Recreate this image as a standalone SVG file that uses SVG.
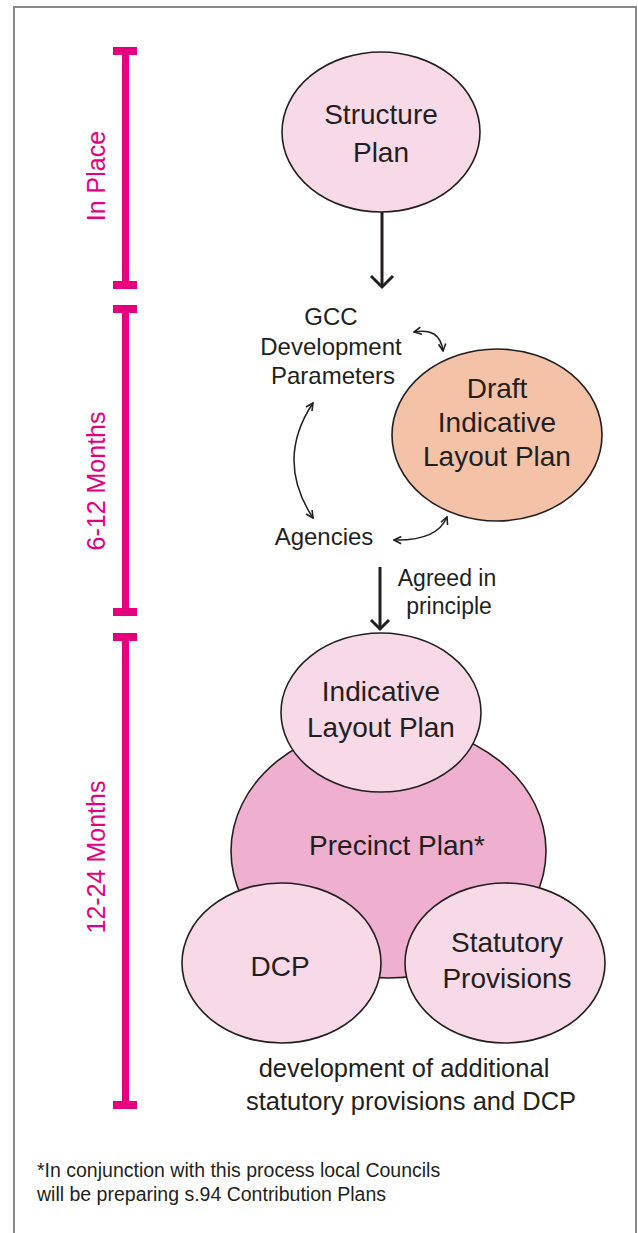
<svg xmlns="http://www.w3.org/2000/svg" width="638" height="1233" viewBox="0 0 638 1233">
<defs>
<style>
.t{font-family:"Liberation Sans",Arial,sans-serif;fill:#231f20;text-anchor:middle}
.big{font-size:28px}
.mid{font-size:24px}
.tl{font-family:"Liberation Sans",Arial,sans-serif;fill:#e6007e;font-size:25px;text-anchor:middle}
.node{stroke:#231f20;stroke-width:1.6}
.pink{fill:#f8d9e8}
.rose{fill:#efb0cf}
.salmon{fill:#f4c2a7}
.bar{fill:#e6007e}
.thick{stroke:#231f20;stroke-width:3;fill:none}
.thin{stroke:#231f20;stroke-width:1.5;fill:none;marker-start:url(#ah);marker-end:url(#ah)}
</style>
<marker id="ah" viewBox="0 0 10 10" refX="9" refY="5" markerWidth="9" markerHeight="9" markerUnits="userSpaceOnUse" orient="auto-start-reverse">
<path d="M1 1 L9 5 L1 9" fill="none" stroke="#231f20" stroke-width="1.8"/>
</marker>
</defs>
<rect width="638" height="1233" fill="#ffffff"/>
<path d="M14 1240 V7 H636 V1240" fill="none" stroke="#888888" stroke-width="2"/>

<g id="timeline">
<rect class="bar" x="122" y="47" width="7" height="242"/>
<rect class="bar" x="113" y="47" width="24" height="8"/>
<rect class="bar" x="113" y="281" width="24" height="8"/>
<text class="tl" transform="translate(105,176) rotate(-90)">In Place</text>
<rect class="bar" x="122" y="305" width="7" height="311"/>
<rect class="bar" x="113" y="305" width="24" height="8"/>
<rect class="bar" x="113" y="608" width="24" height="8"/>
<text class="tl" transform="translate(105,481) rotate(-90)">6-12 Months</text>
<rect class="bar" x="122" y="633" width="7" height="476"/>
<rect class="bar" x="113" y="633" width="24" height="8"/>
<rect class="bar" x="113" y="1101" width="24" height="8"/>
<text class="tl" transform="translate(105,857) rotate(-90)">12-24 Months</text>
</g>

<g id="connectors">
<line class="thick" x1="382" y1="212" x2="382" y2="287"/>
<polyline class="thick" points="371,276 382,287 393,276"/>
<line class="thick" x1="380" y1="567" x2="380" y2="629"/>
<polyline class="thick" points="371,620 380,629 389,620"/>
<path class="thin" d="M414 332 Q440 327 443 351"/>
<path class="thin" d="M313 403 Q275 460 313 518"/>
<path class="thin" d="M394 540 Q437 541 447 517"/>
</g>

<g id="structure-plan">
<ellipse class="node pink" cx="381" cy="132" rx="99" ry="80"/>
<text class="t big" x="381" y="124">Structure</text>
<text class="t big" x="381" y="162">Plan</text>
</g>

<g id="gcc-parameters">
<text class="t mid" x="331" y="325">GCC</text>
<text class="t mid" x="331" y="355">Development</text>
<text class="t mid" x="333" y="384">Parameters</text>
</g>

<g id="draft-ilp">
<ellipse class="node salmon" cx="497" cy="435" rx="105" ry="86"/>
<text class="t big" x="497" y="398">Draft</text>
<text class="t big" x="497" y="432">Indicative</text>
<text class="t big" x="497" y="466">Layout Plan</text>
</g>

<g id="agencies">
<text class="t mid" x="324" y="545">Agencies</text>
</g>

<g id="agreed-label">
<text class="t" style="font-size:23px" x="447" y="586">Agreed in</text>
<text class="t" style="font-size:23px" x="449" y="614">principle</text>
</g>

<g id="precinct-plan">
<ellipse class="node rose" cx="388.5" cy="851" rx="157.5" ry="127"/>
<text class="t big" x="397" y="855">Precinct Plan*</text>
</g>

<g id="indicative-layout-plan">
<ellipse class="node pink" cx="381" cy="712.5" rx="100" ry="79.5"/>
<text class="t big" x="381" y="701">Indicative</text>
<text class="t big" x="381" y="737">Layout Plan</text>
</g>

<g id="dcp">
<ellipse class="node pink" cx="281.5" cy="963" rx="99.5" ry="80"/>
<text class="t big" x="280" y="976">DCP</text>
</g>

<g id="statutory-provisions">
<ellipse class="node pink" cx="505" cy="963" rx="100" ry="80"/>
<text class="t big" x="507" y="952">Statutory</text>
<text class="t big" x="507" y="988">Provisions</text>
</g>

<g id="bottom-note">
<text class="t" style="font-size:25.5px" x="404" y="1077">development of additional</text>
<text class="t" style="font-size:25.5px" x="411" y="1110">statutory provisions and DCP</text>
</g>

<g id="footnote">
<text class="t" style="font-size:19.5px;text-anchor:start" x="37" y="1177">*In conjunction with this process local Councils</text>
<text class="t" style="font-size:19.5px;text-anchor:start" x="37" y="1201">will be preparing s.94 Contribution Plans</text>
</g>
</svg>
